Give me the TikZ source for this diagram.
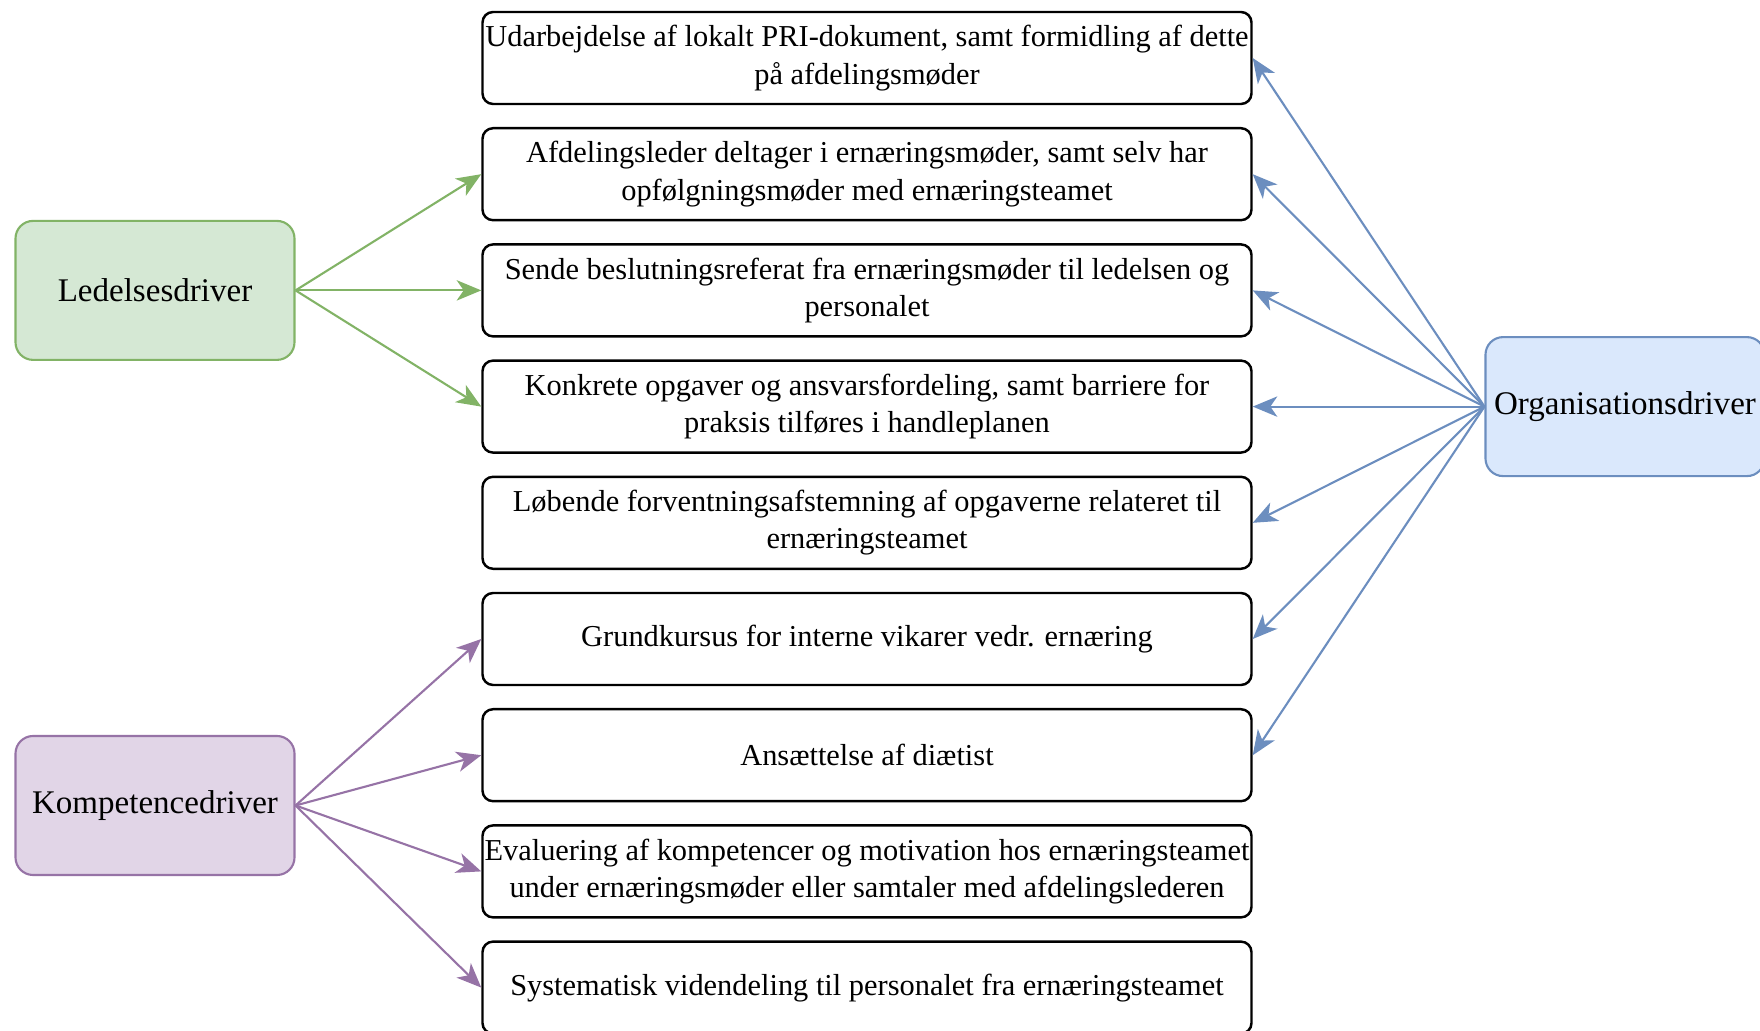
\documentclass[tikz,border=0pt]{standalone}
\usepackage{fontspec}
\setmainfont{Liberation Serif}
\usetikzlibrary{arrows.meta}

\definecolor{ledfill}{HTML}{D5E8D4}
\definecolor{ledline}{HTML}{82B366}
\definecolor{orgfill}{HTML}{DAE8FC}
\definecolor{orgline}{HTML}{6C8EBF}
\definecolor{komfill}{HTML}{E1D5E7}
\definecolor{komline}{HTML}{9673A6}

\begin{document}
\begin{tikzpicture}[
    tiltag/.style={draw=black,line width=0.7pt,rounded corners=3pt,minimum width=7.69cm,minimum height=0.92cm,inner sep=0pt,align=center,font=\fontsize{8.65}{10.6}\selectfont},
    driver/.style={line width=0.6pt,rounded corners=5pt,minimum width=2.79cm,minimum height=1.39cm,inner sep=0pt,font=\fontsize{9.4}{11}\selectfont},
    pil/.style={-{Stealth[length=7pt,width=5.8pt,inset=2pt]},line width=0.6pt}]
            \useasboundingbox (0,0) rectangle (17.6,10.3);

            % tiltag (middle column)
            \node[tiltag] (t1) at (8.67,9.72) {Udarbejdelse af lokalt PRI-dokument, samt formidling af dette\\på afdelingsmøder};
            \node[tiltag] (t2) at (8.67,8.558) {Afdelingsleder deltager i ernæringsmøder, samt selv har\\opfølgningsmøder med ernæringsteamet};
            \node[tiltag] (t3) at (8.67,7.396) {Sende beslutningsreferat fra ernæringsmøder til ledelsen og\\personalet};
            \node[tiltag] (t4) at (8.67,6.234) {Konkrete opgaver og ansvarsfordeling, samt barriere for\\praksis tilføres i handleplanen};
            \node[tiltag] (t5) at (8.67,5.072) {Løbende forventningsafstemning af opgaverne relateret til\\ernæringsteamet};
            \node[tiltag] (t6) at (8.67,3.910) {Grundkursus for interne vikarer vedr. ernæring};
            \node[tiltag] (t7) at (8.67,2.748) {Ansættelse af diætist};
            \node[tiltag] (t8) at (8.67,1.586) {Evaluering af kompetencer og motivation hos ernæringsteamet\\under ernæringsmøder eller samtaler med afdelingslederen};
            \node[tiltag] (t9) at (8.67,0.424) {Systematisk videndeling til personalet fra ernæringsteamet};

            % drivers
            \node[driver,draw=ledline,fill=ledfill] (ledelse) at (1.55,7.396) {Ledelsesdriver};
            \node[driver,draw=komline,fill=komfill] (kompetence) at (1.55,2.245) {Kompetencedriver};
            \node[driver,draw=orgline,fill=orgfill] (organisation) at (16.25,6.234) {Organisationsdriver};

            % arrows
            \foreach \i in {2,3,4}
            \draw[pil,ledline] (ledelse.east) -- (t\i.west);
            \foreach \i in {1,...,7}
            \draw[pil,orgline] (organisation.west) -- (t\i.east);
            \foreach \i in {6,...,9}
            \draw[pil,komline] (kompetence.east) -- (t\i.west);
        \end{tikzpicture}
\end{document}
